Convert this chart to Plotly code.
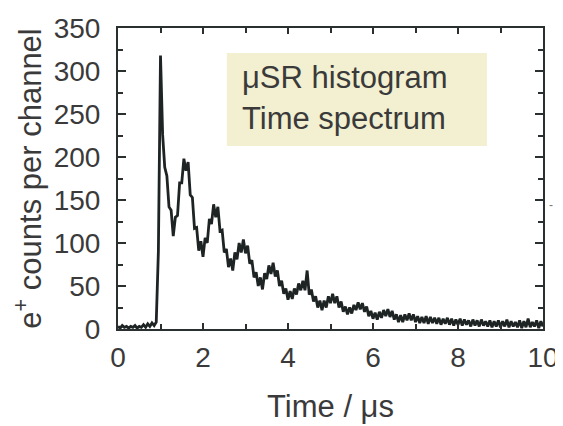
import numpy as np
import plotly.graph_objects as go

# Counts per channel (one channel every 0.05 us)
counts = [
    3, 1, 4, 2, 3, 1, 3, 2, 4, 1, 3, 2, 5, 2, 6, 3, 7, 4,      # 0.00 - 0.85
    8, 90, 318, 226,                                           # 0.90 - 1.05
    188, 178, 142, 138, 108, 130, 132, 170, 170, 198,          # 1.10 - 1.55
    184, 194, 156, 153, 117, 118, 91, 102, 84, 106,            # 1.60 - 2.05
    100, 128, 122, 145, 130, 142, 114, 115, 89, 93,            # 2.10 - 2.55
    72, 82, 68, 89, 81, 100, 89, 104, 88, 97,                  # 2.60 - 3.05
    76, 80, 60, 66, 50, 60, 46, 65, 58, 74,                    # 3.10 - 3.55
    64, 77, 61, 68, 50, 56, 41, 47, 34, 44,                    # 3.60 - 4.05
    35, 47, 40, 53, 45, 56, 45, 68, 40, 46,                    # 4.10 - 4.55
    32, 38, 25, 33, 22, 33, 25, 38, 30, 41,                    # 4.60 - 5.05
    30, 38, 25, 32, 20, 26, 17, 25, 18, 28,                    # 5.10 - 5.55
    22, 31, 23, 30, 20, 26, 15, 21, 12, 19,                    # 5.60 - 6.05
    11, 20, 13, 22, 15, 23, 14, 21, 11, 17,                    # 6.10 - 6.55
    8, 16, 8, 17, 10, 18, 10, 17, 8, 15,                       # 6.60 - 7.05
    7, 14, 7, 15, 6, 14, 7, 13, 6, 13,                         # 7.10 - 7.55
    5, 12, 6, 13, 5, 12, 4, 11, 5, 12,                         # 7.60 - 8.05
    4, 11, 5, 10, 3, 11, 4, 10, 3, 11,                         # 8.10 - 8.55
    4, 9, 3, 10, 2, 9, 3, 10, 2, 9,                            # 8.60 - 9.05
    3, 11, 2, 9, 3, 8, 2, 10, 1, 9,                            # 9.10 - 9.55
    2, 12, 2, 8, 3, 10, 1, 9, 3,                               # 9.60 - 10.00
]
time_us = np.arange(len(counts)) * 0.05

box_lines = ["μSR histogram", "Time spectrum"]

font_name = "Liberation Sans, Arial, sans-serif"
text_col = "#3a3a3a"
frame_col = "#2a2f2f"

fig = go.Figure()

fig.add_trace(
    go.Scatter(
        x=time_us,
        y=counts,
        mode="lines",
        line=dict(color="#1e2424", width=2.8),
        showlegend=False,
    )
)

# legend-like box with the two text lines
fig.add_shape(
    type="rect", xref="paper", yref="paper",
    x0=0.256, x1=0.868, y0=0.608, y1=0.917,
    fillcolor="#f2f0d0", line=dict(width=0), layer="below",
)
fig.add_annotation(
    x=0.287, y=0.835, xref="paper", yref="paper",
    text=box_lines[0], showarrow=False, xanchor="left", yanchor="middle",
    font=dict(family=font_name, size=31, color=text_col),
)
fig.add_annotation(
    x=0.287, y=0.700, xref="paper", yref="paper",
    text=box_lines[1], showarrow=False, xanchor="left", yanchor="middle",
    font=dict(family=font_name, size=31, color=text_col),
)
# small stray mark at the right of the frame
fig.add_annotation(
    x=1.028, y=0.412, xref="paper", yref="paper",
    text="-", showarrow=False,
    font=dict(family=font_name, size=12, color="#777777"),
)

# page body adds an 8px offset, so the figure is 8px smaller
fig.update_layout(
    width=555,
    height=418,
    margin=dict(l=110, r=20, t=20, b=97),
    paper_bgcolor="white",
    plot_bgcolor="white",
    font=dict(family=font_name, size=28, color=text_col),
    xaxis=dict(
        range=[0, 10],
        dtick=2,
        tick0=0,
        ticks="inside",
        ticklen=6,
        tickwidth=1.5,
        tickcolor=frame_col,
        minor=dict(dtick=1, ticks="inside", ticklen=5, tickwidth=1.5, tickcolor=frame_col),
        showline=True,
        linecolor=frame_col,
        linewidth=2,
        mirror="allticks",
        showgrid=False,
        zeroline=False,
        automargin=False,
        ticklabelstandoff=2,
        title=dict(text="Time / μs", font=dict(size=31), standoff=24),
    ),
    yaxis=dict(
        range=[0, 350],
        dtick=50,
        tick0=0,
        ticks="inside",
        ticklen=8,
        tickwidth=1.5,
        tickcolor=frame_col,
        minor=dict(dtick=25, ticks="inside", ticklen=5, tickwidth=1.5, tickcolor=frame_col),
        showline=True,
        linecolor=frame_col,
        linewidth=2,
        mirror="allticks",
        showgrid=False,
        zeroline=False,
        automargin=False,
        ticklabelstandoff=10,
        title=dict(text="e<sup>+</sup> counts per channel", font=dict(size=31), standoff=11),
    ),
)

fig.write_html("out.html")
